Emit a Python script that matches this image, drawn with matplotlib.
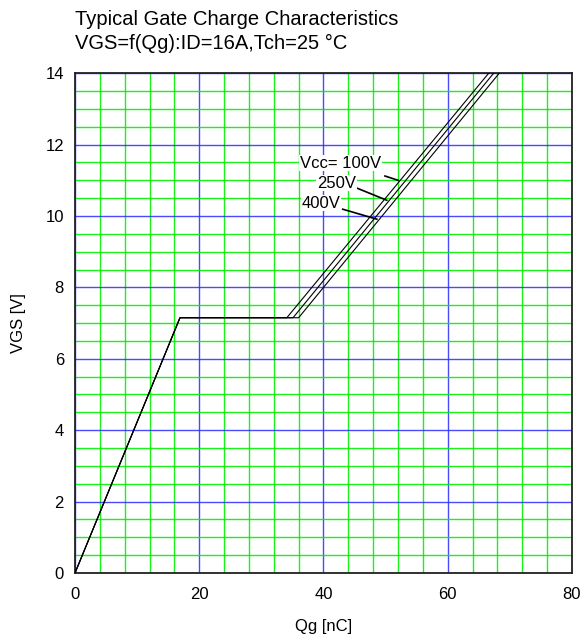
import matplotlib
matplotlib.use("Agg")
import matplotlib.pyplot as plt
from matplotlib.ticker import MultipleLocator

plt.rcParams["font.family"] = ["Liberation Sans", "DejaVu Sans"]

# Gate charge curves
vcc_labels = ["Vcc= 100V", "250V", "400V"]
qg_100 = [0, 16.9, 34.1, 66.6]
qg_250 = [0, 16.9, 35.1, 67.4]
qg_400 = [0, 16.9, 36.0, 68.3]
vgs_pts = [0, 7.15, 7.15, 14.0]

# label text positions and leader lines (data coords)
label_xy = [(36.2, 11.48), (38.95, 10.92), (36.5, 10.36)]
leader_start = [(49.9, 11.12), (45.4, 10.78), (43.1, 10.19)]
leader_end = [(52.0, 11.0), (50.2, 10.44), (48.6, 9.91)]

fig = plt.figure(figsize=(5.86, 6.42), dpi=100)
ax = fig.add_axes([0.128, 0.1075, 0.848, 0.7785])

ax.set_xlim(0, 80)
ax.set_ylim(0, 14)
ax.xaxis.set_major_locator(MultipleLocator(20))
ax.xaxis.set_minor_locator(MultipleLocator(4))
ax.yaxis.set_major_locator(MultipleLocator(2))
ax.yaxis.set_minor_locator(MultipleLocator(0.5))

ax.grid(which="minor", color="#00f000", linewidth=1.0, alpha=0.9)
ax.grid(which="major", color="#2a2aff", linewidth=1.0, alpha=0.85)
ax.set_axisbelow(True)
ax.tick_params(which="both", length=0, labelsize=12)
ax.tick_params(axis="x", pad=10)
ax.tick_params(axis="y", pad=8)

for qg in (qg_100, qg_250, qg_400):
    ax.plot(qg, vgs_pts, color="black", linewidth=0.8, zorder=3)

for lab, (tx, ty), s, e in zip(vcc_labels, label_xy, leader_start, leader_end):
    ax.plot([s[0], e[0]], [s[1], e[1]], color="black", linewidth=1.2, zorder=4)
    ax.text(tx, ty, lab, fontsize=12, ha="left", va="center", zorder=5,
            bbox=dict(facecolor="white", edgecolor="none", pad=0.5))

for sp in ax.spines.values():
    sp.set_linewidth(1.3)
    sp.set_color("#222222")

ax.set_xlabel("Qg [nC]", fontsize=12, labelpad=12)
ax.set_ylabel("VGS [V]", fontsize=12, labelpad=14)

fig.text(0.128, 0.970, "Typical Gate Charge Characteristics", fontsize=14.5,
         ha="left", va="center")
fig.text(0.128, 0.933, "VGS=f(Qg):ID=16A,Tch=25 \u00b0C", fontsize=14.5,
         ha="left", va="center")

fig.savefig("out.png", dpi=100)
